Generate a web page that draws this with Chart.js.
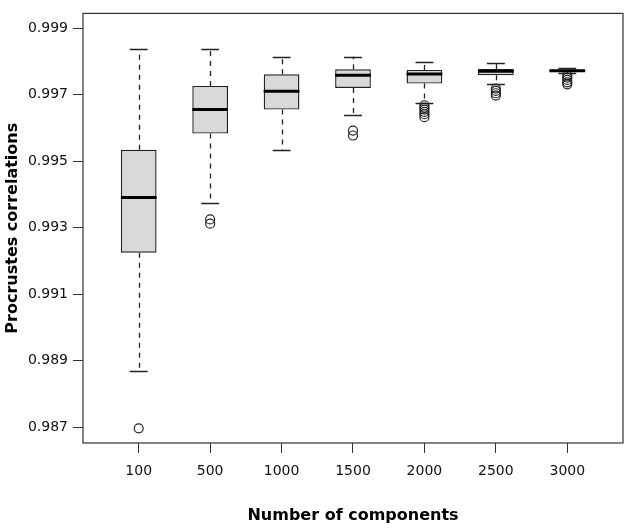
<!DOCTYPE html>
<html>
<head>
<meta charset="utf-8">
<script src="https://cdn.jsdelivr.net/npm/chart.js@4/dist/chart.umd.min.js"></script>
<style>
  body { margin: 0; background: #fff; }
</style>
</head>
<body>
<canvas id="boxChart" width="630" height="530"></canvas>
<script>
const categories = ['100', '500', '1000', '1500', '2000', '2500', '3000'];
const whiskerLow = [0.98868, 0.99373, 0.99533, 0.99640, 0.99676, 0.99731, 0.99765];
const q1 = [0.99225, 0.99583, 0.99655, 0.99720, 0.99733, 0.99758, 0.99768];
const median = [0.99391, 0.99655, 0.99710, 0.99758, 0.99762, 0.99770, 0.99772];
const q3 = [0.99534, 0.99726, 0.99761, 0.99776, 0.99774, 0.99777, 0.99775];
const whiskerHigh = [0.99836, 0.99836, 0.99812, 0.99814, 0.99799, 0.99795, 0.99779];
const outliers = [
    [0.98697],
    [0.99325, 0.99312],
    [],
    [0.99592, 0.99577],
    [0.99668, 0.99661, 0.99655, 0.99648, 0.99641, 0.99632],
    [0.99718, 0.99711, 0.99704, 0.99697],
    [0.99758, 0.99751, 0.99744, 0.99737, 0.99731]
];
const yTicks = [0.987, 0.989, 0.991, 0.993, 0.995, 0.997, 0.999];

const ink = '#222222';
const frameColor = '#333333';
const tickFont = { family: 'DejaVu Sans', size: 14 };
const titleFont = { family: 'DejaVu Sans', size: 16, weight: 'bold' };

// whiskers, caps, medians and the frame, drawn through the chart scales
const boxExtras = {
    id: 'boxExtras',
    beforeDatasetsDraw(chart) {
        const { ctx, scales: { x, y } } = chart;
        ctx.save();
        ctx.strokeStyle = ink;
        ctx.lineWidth = 1.3;
        categories.forEach((c, i) => {
            const cx = Math.round(x.getPixelForValue(i + 1)) + 0.5;
            ctx.setLineDash([5, 5]);
            ctx.beginPath();
            ctx.moveTo(cx, y.getPixelForValue(q3[i]));
            ctx.lineTo(cx, y.getPixelForValue(whiskerHigh[i]));
            ctx.moveTo(cx, y.getPixelForValue(q1[i]));
            ctx.lineTo(cx, y.getPixelForValue(whiskerLow[i]));
            ctx.stroke();
            ctx.setLineDash([]);
            const l = x.getPixelForValue(i + 1 - 0.125);
            const r = x.getPixelForValue(i + 1 + 0.125);
            ctx.beginPath();
            [whiskerHigh[i], whiskerLow[i]].forEach(v => {
                const py = Math.round(y.getPixelForValue(v)) + 0.5;
                ctx.moveTo(l, py);
                ctx.lineTo(r, py);
            });
            ctx.stroke();
        });
        ctx.restore();
    },
    afterDatasetsDraw(chart) {
        const { ctx, scales: { x, y }, chartArea } = chart;
        ctx.save();
        ctx.strokeStyle = '#000';
        ctx.lineWidth = 3;
        categories.forEach((c, i) => {
            const py = y.getPixelForValue(median[i]);
            ctx.beginPath();
            ctx.moveTo(x.getPixelForValue(i + 1 - 0.25), py);
            ctx.lineTo(x.getPixelForValue(i + 1 + 0.25), py);
            ctx.stroke();
        });
        ctx.strokeStyle = frameColor;
        ctx.lineWidth = 1.2;
        ctx.strokeRect(chartArea.left, chartArea.top,
                       chartArea.right - chartArea.left, chartArea.bottom - chartArea.top);
        ctx.restore();
    }
};

const ctx = document.getElementById('boxChart').getContext('2d');
const boxChart = new Chart(ctx, {
    type: 'bar',
    data: {
        datasets: [{
            label: 'IQR',
            data: categories.map((c, i) => ({ x: i + 1, y: [q1[i], q3[i]] })),
            backgroundColor: '#d9d9d9',
            borderColor: ink,
            borderWidth: 1.4,
            borderSkipped: false,
            categoryPercentage: 1,
            barPercentage: 0.5,
            grouped: false
        }, {
            type: 'scatter',
            label: 'Outliers',
            data: outliers.flatMap((vals, i) => vals.map(v => ({ x: i + 1, y: v }))),
            pointStyle: 'circle',
            pointRadius: 4.5,
            pointBorderWidth: 1.2,
            borderColor: ink,
            backgroundColor: 'rgba(0,0,0,0)'
        }]
    },
    options: {
        responsive: false,
        animation: false,
        devicePixelRatio: 1,
        layout: { padding: { top: 5, right: 7, left: 0, bottom: 0 } },
        plugins: {
            legend: { display: false },
            tooltip: { enabled: false }
        },
        scales: {
            x: {
                type: 'linear',
                min: 0.22,
                max: 7.78,
                offset: false,
                afterBuildTicks: s => { s.ticks = categories.map((c, i) => ({ value: i + 1 })); },
                afterFit: s => { s.height = 87; },
                ticks: {
                    color: '#111',
                    font: tickFont,
                    padding: 10,
                    maxRotation: 0,
                    callback: (v, i) => categories[i]
                },
                grid: { offset: false, drawOnChartArea: false, drawTicks: true, tickLength: 10, color: frameColor },
                border: { display: false },
                title: {
                    display: true,
                    text: 'Number of components',
                    color: '#000',
                    font: titleFont,
                    padding: { top: 0, bottom: 5 }
                }
            },
            y: {
                min: 0.98653,
                max: 0.99944,
                afterBuildTicks: s => { s.ticks = yTicks.map(v => ({ value: v })); },
                afterFit: s => { s.width = 83; },
                ticks: {
                    color: '#111',
                    font: tickFont,
                    padding: 5,
                    callback: v => v.toFixed(3)
                },
                grid: { drawOnChartArea: false, drawTicks: true, tickLength: 10, color: frameColor },
                border: { display: false },
                title: {
                    display: true,
                    text: 'Procrustes correlations',
                    color: '#000',
                    font: titleFont,
                    padding: { top: 3, bottom: 0 }
                }
            }
        }
    },
    plugins: [boxExtras]
});
</script>
</body>
</html>
